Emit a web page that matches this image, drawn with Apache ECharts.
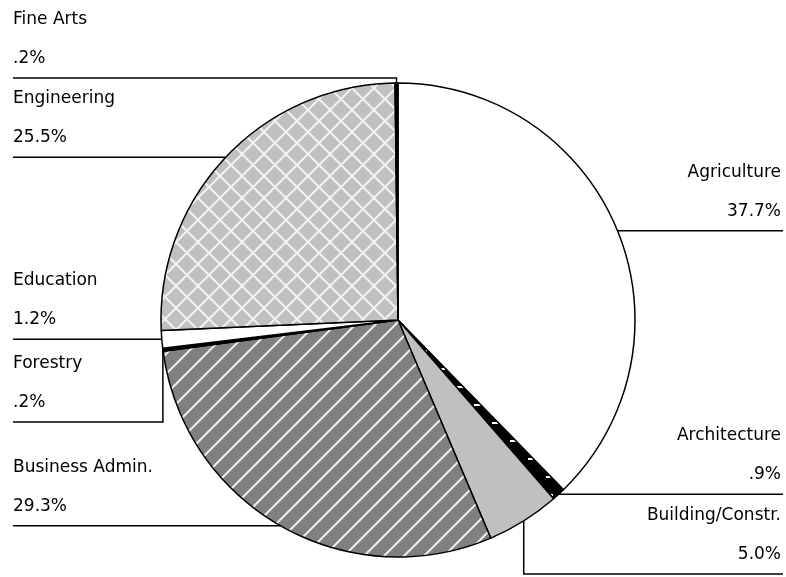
<!DOCTYPE html>
<html>
<head>
<meta charset="utf-8">
<script src="https://cdn.jsdelivr.net/npm/echarts@6/dist/echarts.min.js"></script>
<style>
  html, body { margin: 0; padding: 0; background: #fff; }
  #chart { width: 786px; height: 577px; }
</style>
</head>
<body>
<div id="chart"></div>
<script>
  // data
  var majors = ['Agriculture', 'Architecture', 'Building/Constr.', 'Business Admin.', 'Forestry', 'Education', 'Engineering', 'Fine Arts']
  var shares = [37.7, 0.9, 5.0, 29.3, 0.2, 1.2, 25.5, 0.2]

  // leader lines that drop down/up before turning to the edge
  var lineYOverride = { 'Forestry': 422, 'Building/Constr.': 574, 'Fine Arts': 78 }

  function tile (size, bg, draw) {
    var c = document.createElement('canvas')
    c.width = c.height = size
    var g = c.getContext('2d')
    g.fillStyle = bg
    g.fillRect(0, 0, size, size)
    if (draw) draw(g, size)
    return { image: c, repeat: 'repeat' }
  }
  function diag (g, s, dir) {
    for (var k = -1; k <= 1; k++) {
      g.beginPath()
      if (dir > 0) { g.moveTo(k * s - 2, s + 2); g.lineTo(k * s + s + 2, -2) }
      else { g.moveTo(k * s - 2, -2); g.lineTo(k * s + s + 2, s + 2) }
      g.stroke()
    }
  }

  var hatch = tile(20, '#808080', function (g, s) {
    g.strokeStyle = '#eeeeee'; g.lineWidth = 2
    diag(g, s, 1)
  })
  var cross = tile(22, '#c0c0c0', function (g, s) {
    g.strokeStyle = '#f2f2f2'; g.lineWidth = 2
    diag(g, s, 1); diag(g, s, -1)
  })
  var dashes = tile(18, '#000000', function (g, s) {
    g.fillStyle = '#ffffff'
    g.fillRect(6, 8, 7, 2)
  })
  var fills = ['#ffffff', dashes, '#c0c0c0', hatch, '#000000', '#ffffff', cross, '#000000']

  function pct (v) {
    return v.toFixed(1).replace(/^0\./, '.') + '%'
  }

  var cx = 398, cy = 320
  var chart = echarts.init(document.getElementById('chart'))
  var option = {
    animation: false,
    series: [{
      type: 'pie',
      center: [cx, cy],
      radius: 237,
      startAngle: 90,
      clockwise: true,
      avoidLabelOverlap: false,
      silent: true,
      itemStyle: { borderColor: '#000', borderWidth: 1.5 },
      label: {
        show: true,
        position: 'outside',
        color: '#000',
        fontFamily: 'DejaVu Sans',
        fontSize: 17,
        lineHeight: 39,
        formatter: function (p) { return p.name + '\n' + pct(p.value) }
      },
      labelLine: {
        show: true,
        length: 10,
        length2: 10,
        lineStyle: { color: '#000', width: 1.5 }
      },
      labelLayout: function (params) {
        var a = params.labelLinePoints[0]
        var name = majors[params.dataIndex]
        var y = lineYOverride[name] != null ? lineYOverride[name] : a[1]
        var left = a[0] < cx
        var edge = left ? 13 : 783
        return {
          x: left ? 13 : 781,
          y: y,
          align: left ? 'left' : 'right',
          verticalAlign: 'bottom',
          labelLinePoints: [[a[0], a[1]], [a[0], y], [edge, y]]
        }
      },
      data: majors.map(function (m, i) {
        return { name: m, value: shares[i], itemStyle: { color: fills[i] } }
      })
    }]
  }
  chart.setOption(option)
</script>
</body>
</html>
